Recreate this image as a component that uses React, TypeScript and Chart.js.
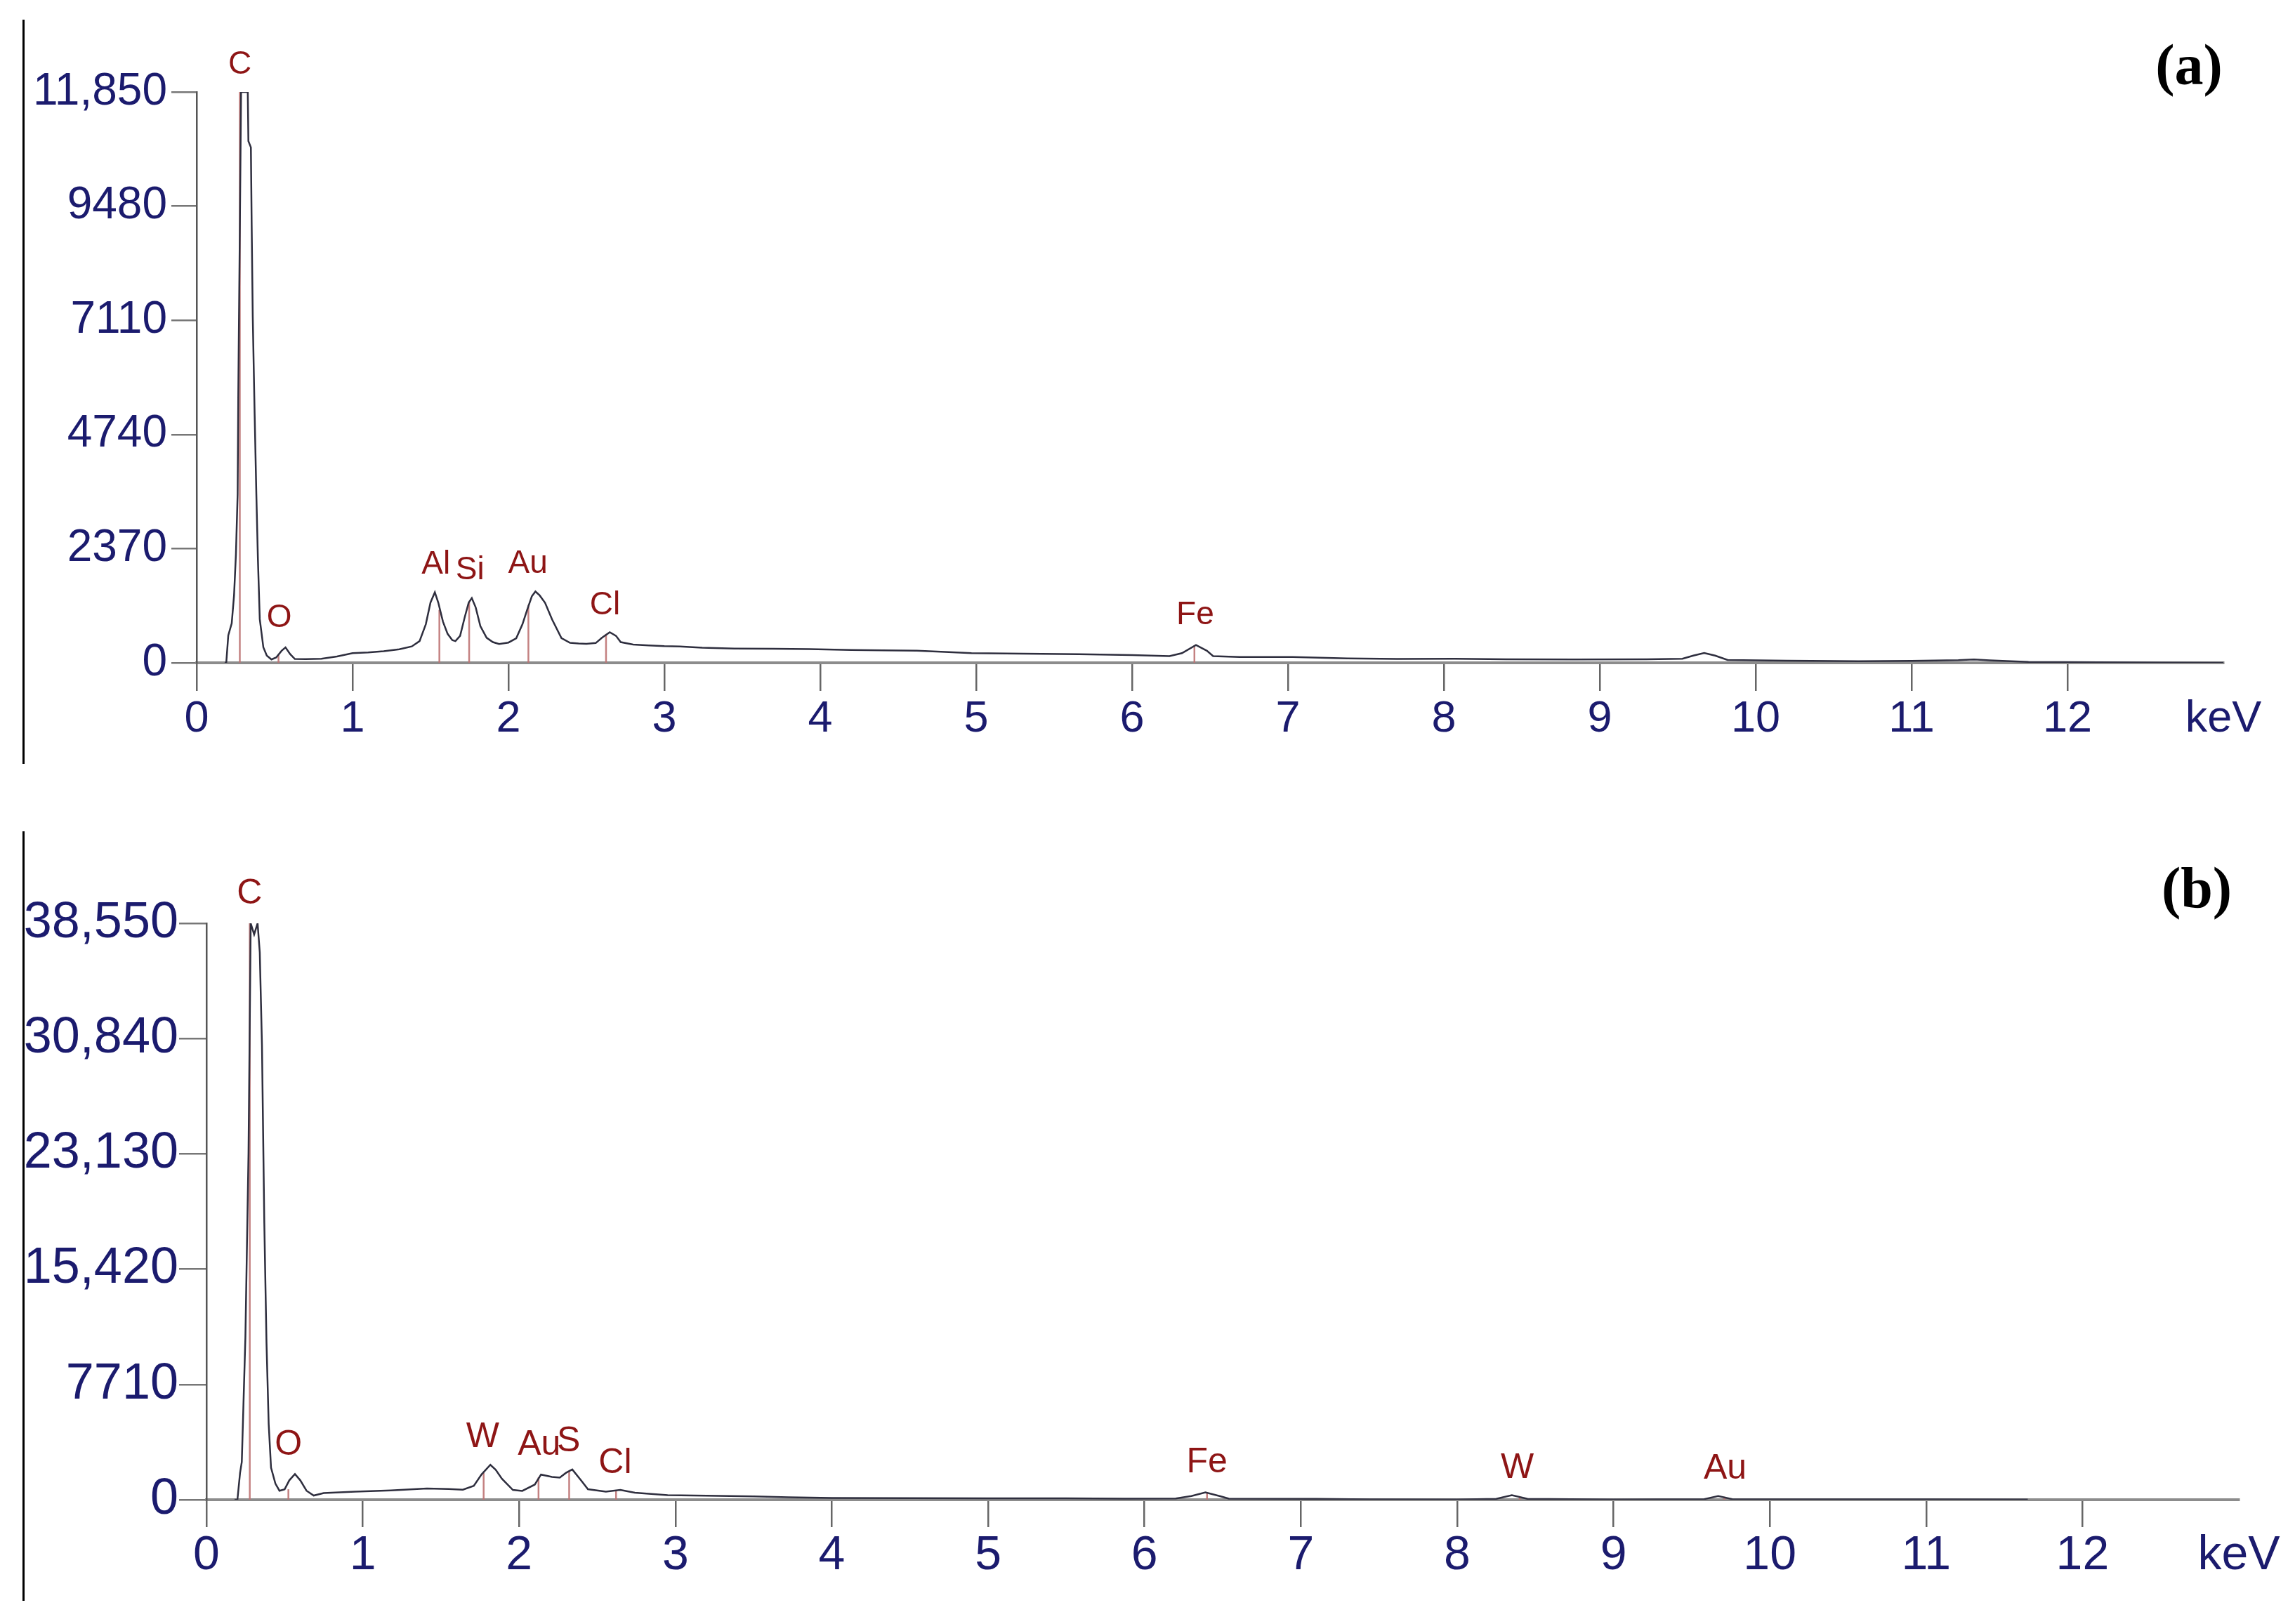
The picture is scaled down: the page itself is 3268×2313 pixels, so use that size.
import React, { useEffect, useRef } from "react";
import { Chart, registerables } from "chart.js";

Chart.register(...registerables);

// ---------- Panel (a) data ----------
const energyA = [
  0.18, 0.19, 0.203, 0.225, 0.24, 0.252, 0.263, 0.267, 0.278, 0.285, 0.31, 0.328, 0.332, 0.348, 0.353, 0.36,
  0.372, 0.383, 0.393, 0.405, 0.428, 0.45, 0.48, 0.51, 0.545, 0.57, 0.6, 0.63, 0.7, 0.8, 0.9, 1.0, 1.1, 1.2,
  1.3, 1.38, 1.43, 1.47, 1.5, 1.528, 1.55, 1.58, 1.61, 1.64, 1.66, 1.69, 1.72, 1.745, 1.765, 1.79, 1.82, 1.86,
  1.9, 1.94, 2.0, 2.05, 2.09, 2.12, 2.15, 2.173, 2.2, 2.235, 2.28, 2.34, 2.395, 2.45, 2.5, 2.56, 2.6, 2.65,
  2.69, 2.72, 2.8, 2.9, 3.0, 3.1, 3.243, 3.45, 3.7, 3.93, 4.2, 4.4, 4.62, 4.8, 4.97, 5.3, 5.66, 6.0, 6.24,
  6.32, 6.41, 6.48, 6.52, 6.69, 7.03, 7.38, 7.7, 8.07, 8.4, 8.84, 9.3, 9.53, 9.6, 9.67, 9.74, 9.82, 10.2,
  10.66, 11.0, 11.3, 11.4, 11.5, 11.75, 12.2, 12.6, 13.0,
];
const countsA = [
  0, 0, 570, 820, 1400, 2250, 3500, 5500, 9300, 11850, 11850, 11850, 10830, 10700, 9100, 7180,
  5170, 3500, 2160, 905, 320, 150, 70, 110, 250, 320, 180, 80, 75, 85, 130, 200, 215, 240,
  280, 340, 450, 800, 1250, 1465, 1250, 855, 600, 470, 450, 560, 950, 1250, 1343, 1150, 760, 520,
  430, 390, 420, 510, 800, 1100, 1380, 1480, 1400, 1245, 900, 513, 415, 400, 395, 410, 520, 635,
  560, 430, 380, 360, 345, 340, 313, 295, 290, 284, 265, 258, 250, 225, 202, 190, 178, 160, 140,
  200, 370, 250, 140, 120, 120, 92, 80, 82, 74, 68, 72, 83, 150, 205, 150, 58, 45,
  34, 40, 55, 68, 50, 20, 10, 5, 0,
];
const yTicksA = ["0", "2370", "4740", "7110", "9480", "11,850"];
const yMaxA = 11850;
const yStepA = 2370;
const markerEA = [0.277, 0.525, 1.557, 1.748, 2.128, 2.626, 6.4];
const markerTopA = [11850, 170, 1100, 1250, 1200, 600, 360];
const labelTextA = ["C", "O", "Al", "Si", "Au", "Cl", "Fe"];
const labelEA = [0.278, 0.53, 1.535, 1.753, 2.125, 2.619, 6.405];
const labelCA = [12420, 925, 2030, 1917, 2044, 1184, 985];

// ---------- Panel (b) data ----------
const energyB = [
  0.18, 0.198, 0.215, 0.226, 0.249, 0.269, 0.283, 0.305, 0.327, 0.341, 0.355, 0.37, 0.384, 0.398, 0.413,
  0.441, 0.467, 0.5, 0.53, 0.566, 0.6, 0.64, 0.686, 0.75, 0.95, 1.18, 1.41, 1.55, 1.64, 1.71, 1.76, 1.816,
  1.85, 1.89, 1.96, 2.02, 2.1, 2.14, 2.21, 2.26, 2.3, 2.34, 2.4, 2.44, 2.555, 2.647, 2.74, 2.95, 3.2, 3.5,
  3.72, 4.0, 4.5, 5.0, 5.5, 5.87, 6.2, 6.3, 6.39, 6.48, 6.54, 7.1, 7.44, 8.0, 8.25, 8.35, 8.45, 9.0, 9.58,
  9.67, 9.76, 10.5, 11.0, 11.65,
];
const countsB = [
  0, 0, 1800, 2530, 10860, 23200, 38550, 37800, 38550, 36600, 30400, 18500, 10500, 5060, 2150,
  1080, 600, 700, 1300, 1714, 1300, 600, 280, 450, 545, 623, 748, 720, 670, 935, 1700, 2337,
  2000, 1402, 654, 592, 1013, 1683, 1527, 1480, 1800, 2025, 1246, 701, 545, 654, 467, 300, 270, 220,
  160, 120, 100, 95, 90, 70, 80, 250, 490, 250, 70, 60, 20, 15, 60, 300, 60, 15, 40,
  240, 40, 20, 25, 10,
];
const yTicksB = ["0", "7710", "15,420", "23,130", "30,840", "38,550"];
const yMaxB = 38550;
const yStepB = 7710;
const markerEB = [0.277, 0.524, 1.773, 2.124, 2.32, 2.62, 6.4, 8.4, 9.71];
const markerTopB = [38550, 700, 1800, 1500, 1900, 600, 450, 200, 200];
const labelTextB = ["C", "O", "W", "Au", "S", "Cl", "Fe", "W", "Au"];
const labelEB = [0.275, 0.524, 1.767, 2.128, 2.316, 2.614, 6.4, 8.385, 9.714];
const labelCB = [40530, 3630, 4170, 3660, 3890, 2415, 2470, 2115, 2040];

const xMax = 13;

type PanelProps = {
  energy: number[];
  counts: number[];
  yTicks: string[];
  yMax: number;
  yStep: number;
  markerE: number[];
  markerTop: number[];
  labelText: string[];
  labelE: number[];
  labelC: number[];
  width: number;
  height: number;
  top: number;
  areaLeft: number;
  areaTop: number;
  areaRight: number;
  areaBottom: number;
  tickFont: number;
  yTickFont: number;
  labelFont: number;
  xPad: number;
  yPad: number;
  xTickLen: number;
  yTickLen: number;
};

function Panel(p: PanelProps) {
  const ref = useRef<HTMLCanvasElement | null>(null);
  useEffect(() => {
    if (!ref.current) return;
    const peakPlugin = {
      id: "peaks",
      beforeDatasetsDraw(chart: any) {
        const { ctx, scales } = chart;
        const x = scales.x;
        const y = scales.y;
        ctx.save();
        ctx.strokeStyle = "rgba(190,115,115,0.9)";
        ctx.lineWidth = 2.5;
        p.markerE.forEach((e, i) => {
          const px = x.getPixelForValue(e);
          ctx.beginPath();
          ctx.moveTo(px, y.getPixelForValue(0));
          ctx.lineTo(px, y.getPixelForValue(p.markerTop[i]));
          ctx.stroke();
        });
        ctx.restore();
      },
      afterDatasetsDraw(chart: any) {
        const { ctx, scales } = chart;
        const x = scales.x;
        const y = scales.y;
        ctx.save();
        ctx.fillStyle = "#8e1515";
        ctx.font = `${p.labelFont}px "Liberation Sans", Arial, sans-serif`;
        ctx.textAlign = "center";
        ctx.textBaseline = "middle";
        p.labelText.forEach((t, i) => {
          ctx.fillText(t, x.getPixelForValue(p.labelE[i]), y.getPixelForValue(p.labelC[i]));
        });
        ctx.restore();
      },
    };
    const chart = new Chart(ref.current, {
      type: "line",
      data: {
        datasets: [
          {
            data: p.energy.map((e, i) => ({ x: e, y: p.counts[i] })),
            borderColor: "#2e2e3e",
            borderWidth: 2.5,
            pointRadius: 0,
            tension: 0,
            fill: false,
          },
        ],
      },
      options: {
        animation: false,
        responsive: false,
        maintainAspectRatio: false,
        devicePixelRatio: 1,
        layout: {
          padding: { left: 0, top: p.areaTop, right: p.width - p.areaRight, bottom: 0 },
        },
        plugins: { legend: { display: false }, tooltip: { enabled: false }, title: { display: false } },
        scales: {
          x: {
            type: "linear",
            min: 0,
            max: xMax,
            afterFit: (s: any) => {
              s.height = p.height - p.areaBottom;
            },
            ticks: {
              stepSize: 1,
              autoSkip: false,
              maxRotation: 0,
              padding: p.xPad,
              color: "#1b1b6e",
              font: { family: '"Liberation Sans", Arial, sans-serif', size: p.tickFont },
              callback: (v: any) => (Number(v) === xMax ? "keV" : String(v)),
            },
            grid: {
              drawOnChartArea: false,
              drawTicks: true,
              tickLength: p.xTickLen,
              lineWidth: 2.5,
              color: (c: any) => (c.tick && c.tick.value === xMax ? "rgba(0,0,0,0)" : "#666"),
            },
            border: { display: true, color: "#8c8c8c", width: 4 },
          },
          y: {
            type: "linear",
            min: 0,
            max: p.yMax,
            afterFit: (s: any) => {
              s.width = p.areaLeft;
            },
            ticks: {
              stepSize: p.yStep,
              padding: p.yPad,
              color: "#1b1b6e",
              font: { family: '"Liberation Sans", Arial, sans-serif', size: p.yTickFont },
              callback: (v: any) => p.yTicks[Math.round(Number(v) / p.yStep)] ?? "",
            },
            grid: {
              drawOnChartArea: false,
              drawTicks: true,
              tickLength: p.yTickLen,
              lineWidth: 2.5,
              color: "#777",
            },
            border: { display: true, color: "#555", width: 2.5 },
          },
        },
      },
      plugins: [peakPlugin],
    } as any);
    return () => chart.destroy();
  }, []);
  return (
    <canvas
      ref={ref}
      width={p.width}
      height={p.height}
      style={{ position: "absolute", left: 0, top: p.top, width: p.width, height: p.height }}
    />
  );
}

export default function App() {
  const W = 3268;
  return (
    <div style={{ position: "absolute", left: 0, top: 0, width: W, height: 2313, background: "#fff", overflow: "hidden" }}>
      <Panel
        energy={energyA}
        counts={countsA}
        yTicks={yTicksA}
        yMax={yMaxA}
        yStep={yStepA}
        markerE={markerEA}
        markerTop={markerTopA}
        labelText={labelTextA}
        labelE={labelEA}
        labelC={labelCA}
        width={W}
        height={1150}
        top={0}
        areaLeft={280}
        areaTop={131}
        areaRight={3166}
        areaBottom={944}
        tickFont={63}
        yTickFont={64}
        labelFont={46}
        xPad={3}
        yPad={6}
        xTickLen={40}
        yTickLen={36}
      />
      <Panel
        energy={energyB}
        counts={countsB}
        yTicks={yTicksB}
        yMax={yMaxB}
        yStep={yStepB}
        markerE={markerEB}
        markerTop={markerTopB}
        labelText={labelTextB}
        labelE={labelEB}
        labelC={labelCB}
        width={W}
        height={1163}
        top={1150}
        areaLeft={294}
        areaTop={165}
        areaRight={3188}
        areaBottom={986}
        tickFont={68}
        yTickFont={72}
        labelFont={50}
        xPad={0}
        yPad={1}
        xTickLen={39}
        yTickLen={39}
      />
      <div style={{ position: "absolute", left: 32, top: 28, width: 3, height: 1060, background: "#000" }} />
      <div style={{ position: "absolute", left: 32, top: 1184, width: 3, height: 1096, background: "#000" }} />
      <div
        style={{
          position: "absolute",
          left: 3117,
          top: 93,
          transform: "translate(-50%, -50%)",
          font: 'bold 82px "Liberation Serif", "Times New Roman", serif',
          lineHeight: 1,
          color: "#000",
          whiteSpace: "nowrap",
        }}
      >
        (a)
      </div>
      <div
        style={{
          position: "absolute",
          left: 3128,
          top: 1265,
          transform: "translate(-50%, -50%)",
          font: 'bold 82px "Liberation Serif", "Times New Roman", serif',
          lineHeight: 1,
          color: "#000",
          whiteSpace: "nowrap",
        }}
      >
        (b)
      </div>
    </div>
  );
}
